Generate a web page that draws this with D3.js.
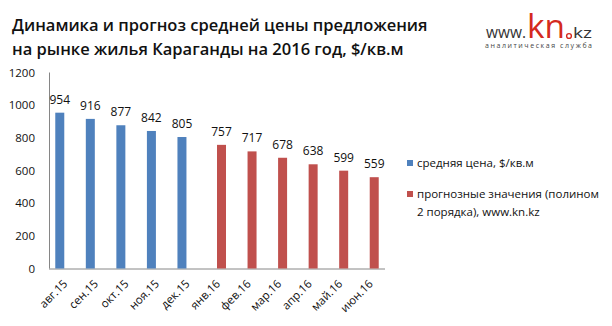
<!DOCTYPE html>
<html><head><meta charset="utf-8">
<script src="https://cdn.jsdelivr.net/npm/d3@7"></script>
<style>body{margin:0;background:#fff}svg{display:block}</style>
</head><body><svg id="c" width="612" height="326"></svg>
<script>
const categories = ["авг.15","сен.15","окт.15","ноя.15","дек.15","янв.16","фев.16","мар.16","апр.16","май.16","июн.16"];
const actualValues = [954, 916, 877, 842, 805, null, null, null, null, null, null];
const forecastValues = [null, null, null, null, null, 757, 717, 678, 638, 599, 559];
const yTicks = [0, 200, 400, 600, 800, 1000, 1200];
const seriesNames = ["средняя цена, $/кв.м", "прогнозные значения (полином", "2 порядка), www.kn.kz"];
const titleLines = ["Динамика и прогноз средней цены предложения", "на рынке жилья Караганды на 2016 год, $/кв.м"];

(function () {
const svg = d3.select("#c");
const F = "'Open Sans', 'DejaVu Sans', sans-serif";
const colors = ["#4F81BD", "#C0504D"];
const pLeft = 49, pRight = 385, pTop = 72.5, pBottom = 268.5;

const x = d3.scaleBand().domain(categories).range([pLeft, pRight]).paddingInner(0).paddingOuter(0);
const y = d3.scaleLinear().domain([0, 1200]).range([pBottom, pTop]);
const bw = 9;
const series = [actualValues, forecastValues];

// title
svg.append("g").selectAll("text").data(titleLines).join("text")
  .attr("x", 12).attr("y", (d, i) => 31 + i * 23.5)
  .attr("font-family", F).attr("font-weight", 600).attr("font-size", 16.5)
  .attr("fill", "#111").text(d => d);

// logo
const logo = svg.append("g");
logo.append("text").attr("x", 486).attr("y", 38).attr("font-family", F).attr("font-size", 16)
  .attr("textLength", 40).attr("lengthAdjust", "spacingAndGlyphs")
  .attr("fill", "#333").text("www.");
logo.append("text").attr("x", 527).attr("y", 38).attr("font-family", F).attr("font-size", 32)
  .attr("textLength", 38).attr("lengthAdjust", "spacingAndGlyphs")
  .attr("fill", "#D42A20").text("kn");
logo.append("circle").attr("cx", 569).attr("cy", 36).attr("r", 2.4).attr("fill", "none")
  .attr("stroke", "#D42A20").attr("stroke-width", 1.4);
logo.append("text").attr("x", 573).attr("y", 38).attr("font-family", F).attr("font-size", 15)
  .attr("textLength", 19).attr("lengthAdjust", "spacingAndGlyphs")
  .attr("fill", "#333").text("kz");
logo.append("text").attr("x", 485).attr("y", 47.5).attr("font-family", F).attr("font-size", 7)
  .attr("textLength", 107).attr("lengthAdjust", "spacing")
  .attr("fill", "#444").text("аналитическая служба");

// y axis labels
svg.append("g").selectAll("text").data(yTicks).join("text")
  .attr("x", 35).attr("y", d => y(d) + 4).attr("text-anchor", "end")
  .attr("font-family", F).attr("font-size", 11.5).attr("fill", "#111").text(d => d);

// axes lines
svg.append("line").attr("x1", pLeft + 0.5).attr("x2", pLeft + 0.5).attr("y1", pTop).attr("y2", pBottom)
  .attr("stroke", "#868686");
svg.append("line").attr("x1", pLeft).attr("x2", pRight).attr("y1", pBottom + 0.5).attr("y2", pBottom + 0.5)
  .attr("stroke", "#868686");

// bars
series.forEach((vals, si) => {
  const g = svg.append("g");
  const data = categories.map((c, i) => ({c, v: vals[i]})).filter(d => d.v != null);
  const xo = c => x(c) + x.bandwidth() / 2 + (si === 0 ? -bw : 0);
  g.selectAll("rect").data(data).join("rect")
    .attr("x", d => xo(d.c)).attr("width", bw)
    .attr("y", d => y(d.v)).attr("height", d => y(0) - y(d.v))
    .attr("fill", colors[si]);
  g.selectAll("text").data(data).join("text")
    .attr("x", d => xo(d.c) + bw / 2).attr("y", d => y(d.v) - 9)
    .attr("text-anchor", "middle").attr("font-family", F).attr("font-size", 12)
    .attr("fill", "#111").text(d => d.v);
});

// x labels
svg.append("g").selectAll("text").data(categories).join("text")
  .attr("transform", d => `translate(${x(d) + x.bandwidth() / 2 + 4},${pBottom + 16}) rotate(-45)`)
  .attr("text-anchor", "end").attr("font-family", F).attr("font-size", 11.5)
  .attr("fill", "#111").text(d => d);

// legend
const lg = svg.append("g");
lg.append("rect").attr("x", 407).attr("y", 160).attr("width", 6).attr("height", 6).attr("fill", colors[0]);
lg.append("text").attr("x", 417).attr("y", 167).attr("font-family", F).attr("font-size", 11.5)
  .attr("fill", "#111").text(seriesNames[0]);
lg.append("rect").attr("x", 407).attr("y", 191).attr("width", 6).attr("height", 6).attr("fill", colors[1]);
lg.append("text").attr("x", 417).attr("y", 198).attr("font-family", F).attr("font-size", 11.5)
  .attr("fill", "#111").text(seriesNames[1]);
lg.append("text").attr("x", 417).attr("y", 216).attr("font-family", F).attr("font-size", 11.5)
  .attr("fill", "#111").text(seriesNames[2]);
})();
</script></body></html>
